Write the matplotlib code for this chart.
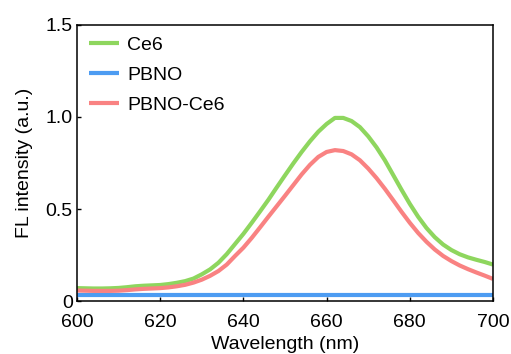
import matplotlib
matplotlib.use("Agg")
import matplotlib.pyplot as plt
from matplotlib.ticker import FuncFormatter

plt.rcParams['font.family'] = ['Liberation Sans', 'DejaVu Sans']

wavelength = list(range(600, 701, 2))
ce6 = [0.070, 0.069, 0.068, 0.068, 0.069, 0.071, 0.075, 0.080, 0.083, 0.085,
       0.087, 0.092, 0.099, 0.108, 0.122, 0.145, 0.172, 0.208, 0.255, 0.310,
       0.365, 0.425, 0.487, 0.550, 0.617, 0.683, 0.748, 0.810, 0.868, 0.920,
       0.962, 0.995, 0.995, 0.978, 0.945, 0.895, 0.835, 0.765, 0.685, 0.605,
       0.528, 0.458, 0.397, 0.347, 0.307, 0.277, 0.254, 0.237, 0.224, 0.212,
       0.198]
pbno = [0.030] * len(wavelength)
pbno_ce6 = [0.057, 0.056, 0.055, 0.055, 0.055, 0.056, 0.059, 0.063, 0.066, 0.068,
            0.070, 0.074, 0.080, 0.088, 0.100, 0.116, 0.137, 0.163, 0.198, 0.245,
            0.290, 0.343, 0.400, 0.458, 0.515, 0.572, 0.630, 0.688, 0.740, 0.783,
            0.810, 0.820, 0.815, 0.797, 0.765, 0.720, 0.668, 0.610, 0.548, 0.485,
            0.425, 0.370, 0.322, 0.280, 0.245, 0.217, 0.193, 0.173, 0.155, 0.138,
            0.120]

series_labels = ["Ce6", "PBNO", "PBNO-Ce6"]
colors = ["#8ed65e", "#4d9cf2", "#f98282"]

fig = plt.figure(figsize=(5.11, 3.54), dpi=100)
ax = fig.add_axes([0.1507, 0.1497, 0.8141, 0.7797])

for y, lab, c in zip([ce6, pbno, pbno_ce6], series_labels, colors):
    ax.plot(wavelength, y, color=c, lw=3, label=lab, solid_capstyle='butt')

ax.set_xlim(600, 700)
ax.set_ylim(0, 1.5)
ax.set_xticks([600, 620, 640, 660, 680, 700])
ax.set_yticks([0, 0.5, 1.0, 1.5])
ax.yaxis.set_major_formatter(FuncFormatter(lambda v, p: "0" if v == 0 else f"{v:.1f}"))
ax.tick_params(direction='in', length=3, width=1, labelsize=14)
ax.tick_params(axis='x', pad=9)
ax.tick_params(axis='y', pad=3)
for s in ax.spines.values():
    s.set_linewidth(1.1)

ax.set_xlabel("Wavelength (nm)", fontsize=14, labelpad=4)
ax.set_ylabel("FL intensity (a.u.)", fontsize=14, labelpad=9)

ax.legend(loc='upper left', bbox_to_anchor=(12 / 416, 1 - 11 / 276), frameon=False,
          fontsize=14, handlelength=1.55, handletextpad=0.41, labelspacing=0.65,
          borderaxespad=0, borderpad=0)

fig.savefig("out.png", dpi=100)
